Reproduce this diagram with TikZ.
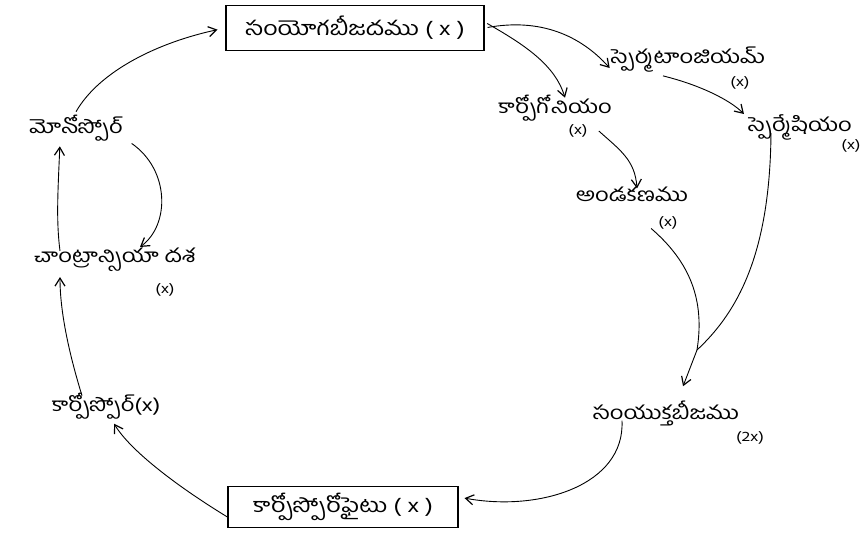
\documentclass[tikz,border=0pt]{standalone}
\usepackage{fontspec}
\newfontfamily\te[Script=Telugu, FakeStretch=1.25]{Hind Guntur}
\usetikzlibrary{arrows.meta}
\begin{document}
\begin{tikzpicture}[x=1pt,y=-1pt,
  lbl/.style={font=\te\fontsize{19}{21}\selectfont, inner sep=1pt},
  ploid/.style={font=\te\fontsize{14}{16}\selectfont, inner sep=1pt},
  box/.style={draw, line width=1.2pt, font=\te\fontsize{20}{22}\selectfont, inner sep=3pt},
  arr/.style={-{Straight Barb[length=8pt,width=10pt,line width=1.2pt]}, line width=0.9pt},
  ln/.style={line width=0.9pt}]
\useasboundingbox (0,0) rectangle (863,544);
% boxes
\node[box, minimum width=258pt, minimum height=45pt] (gam) at (355,28) {సంయోగబీజదము ( x )};
\node[box, minimum width=230pt, minimum height=41pt] (cspo) at (343,507) {కార్పోస్పోరోఫైటు ( x )};
% labels
\node[lbl] (sptg) at (688,60) {స్పెర్మటాంజియమ్};
\node[ploid] (sptgp) at (740,83) {(x)};
\node[lbl] (carp) at (555,108) {కార్పోగోనియం};
\node[ploid] (carpp) at (578,131) {(x)};
\node[lbl] (sptm) at (800,127) {స్పెర్మేషియం};
\node[ploid] (sptmp) at (851,146) {(x)};
\node[lbl] (egg) at (632,194) {అండకణము};
\node[ploid] (eggp) at (668,223) {(x)};
\node[lbl] (zyg) at (666,413) {సంయుక్తబీజము};
\node[ploid] (zygp) at (750,438) {(2x)};
\node[lbl] (mono) at (76,128) {మోనోస్పోర్};
\node[lbl] (chan) at (115,260) {చాంట్రాన్సియా దశ};
\node[ploid] (chanp) at (165,290) {(x)};
\node[lbl] (cspore) at (106,406) {కార్పోస్పోర్(x)};
\coordinate (m) at (697,350);
% arrows
\draw[arr, shorten >=8pt] ([yshift=2]mono.north) .. controls (100,70) and (160,42) .. (gam.west);
\draw[arr, shorten <=3pt] (gam.east) .. controls (540,18) and (580,35) .. ([yshift=-8]sptg.west);
\draw[arr, shorten <=3pt] ([yshift=6]gam.east) .. controls (525,45) and (555,65) .. ([xshift=10,yshift=-4]carp.north);
\draw[arr] ([xshift=-25,yshift=-2]sptg.south) .. controls (700,85) and (730,100) .. ([xshift=-3,yshift=-1]sptm.north west);
\draw[arr] ([xshift=10]carpp.east) .. controls (620,150) and (635,160) .. ([xshift=5,yshift=-3]egg.north);
\draw[ln] ([xshift=-6,yshift=2]eggp.south west) .. controls (690,262) and (705,300) .. (m);
\draw[arr, shorten >=14pt] ([xshift=-29,yshift=8]sptm.south) .. controls (770,250) and (740,310) .. (m) -- ([xshift=12]zyg.north);
\draw[arr, shorten >=6pt] ([xshift=-44,yshift=6]zyg.south) .. controls (625,485) and (540,512) .. ([yshift=10]cspo.east);
\draw[arr, shorten >=4pt] ([yshift=-10]cspo.west) .. controls (175,485) and (130,450) .. ([xshift=6]cspore.south);
\draw[arr, shorten >=4pt] ([xshift=-24,yshift=-4]cspore.north) .. controls (68,350) and (60,310) .. ([xshift=-55]chan.south);
\draw[arr, shorten >=4pt] ([xshift=-55,yshift=-4]chan.north) .. controls (56,220) and (58,190) .. ([xshift=-16]mono.south);
\draw[arr, shorten <=2pt] ([xshift=54]mono.south) .. controls (170,170) and (170,225) .. ([xshift=25]chan.north);
\end{tikzpicture}
\end{document}
